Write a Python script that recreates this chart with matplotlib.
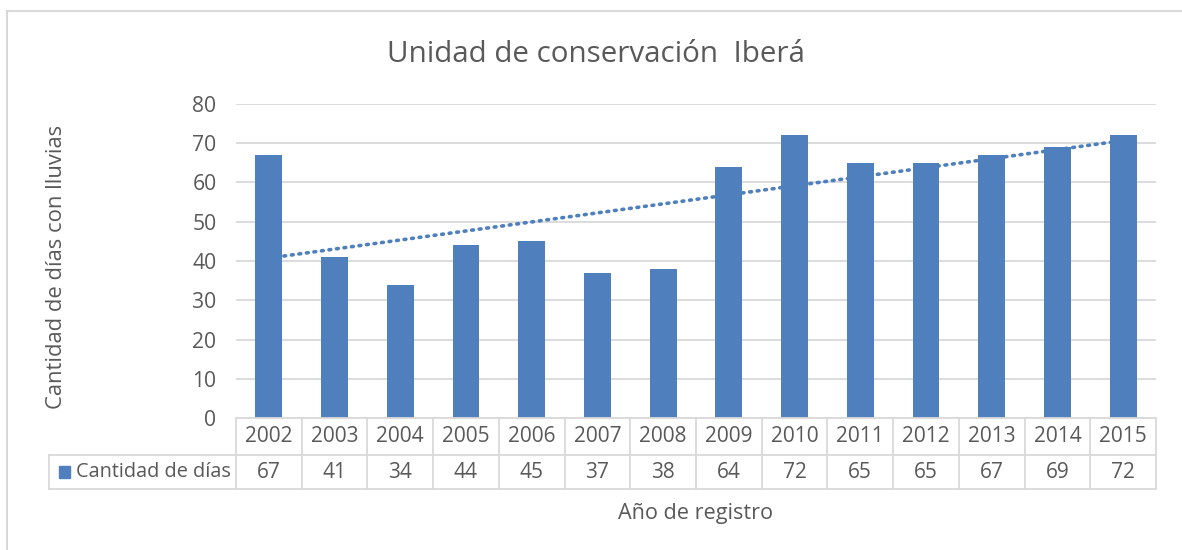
import numpy as np
import matplotlib
matplotlib.use("Agg")
import matplotlib.pyplot as plt
from matplotlib.lines import Line2D
from matplotlib.patches import Rectangle

years = ["2002", "2003", "2004", "2005", "2006", "2007", "2008",
         "2009", "2010", "2011", "2012", "2013", "2014", "2015"]
dias = [67, 41, 34, 44, 45, 37, 38, 64, 72, 65, 65, 67, 69, 72]
series_name = "Cantidad de días"
title = "Unidad de conservación  Iberá"
ylabel = "Cantidad de días con lluvias"
xlabel = "Año de registro"
yticks = [0, 10, 20, 30, 40, 50, 60, 70, 80]

plt.rcParams['font.family'] = ['Open Sans', 'DejaVu Sans']
W, H = 1182, 550
fig = plt.figure(figsize=(W / 100, H / 100), dpi=100)
fig.patch.set_facecolor("white")

txt = "#595959"
grid = "#d9d9d9"
blue = "#4f80bd"

def fx(px):
    return px / W

def fy(py):
    return 1 - py / H

# outer border (only left and top edges visible in the crop)
bl = dict(color=grid, lw=1.5, transform=fig.transFigure)
fig.add_artist(Line2D([fx(7), fx(7)], [fy(11), fy(560)], **bl))
fig.add_artist(Line2D([fx(7), fx(1200)], [fy(11), fy(11)], **bl))

L, R, T, B = 236, 1156, 104, 418
ax = fig.add_axes([fx(L), fy(B), fx(R) - fx(L), fy(T) - fy(B)])
n = len(years)
x = np.arange(n)
ax.bar(x, dias, width=0.41, color=blue, zorder=3)
coef = np.polyfit(x, dias, 1)
ax.plot([x[0], x[-1]], np.polyval(coef, [x[0], x[-1]]), color=blue, lw=2.6,
        linestyle=(0, (0.5, 1.6)), dash_capstyle='round', zorder=4)
ax.set_xlim(-0.5, n - 0.5)
ax.set_ylim(0, 80)
ax.set_yticks(yticks)
ax.yaxis.grid(True, color=grid, lw=1.3, zorder=0)
ax.set_xticks([])
for s in ax.spines.values():
    s.set_visible(False)
ax.tick_params(axis='y', length=0, labelsize=15.2, labelcolor=txt, pad=14)

# data table
col_w = (R - L) / n
row1_top, row1_bot, row2_bot = 418, 455, 489
leg_left = 49
tl = dict(color=grid, lw=1.3, transform=fig.transFigure)
fig.add_artist(Line2D([fx(L), fx(R)], [fy(row1_top)] * 2, **tl))
fig.add_artist(Line2D([fx(leg_left), fx(R)], [fy(row1_bot)] * 2, **tl))
fig.add_artist(Line2D([fx(leg_left), fx(R)], [fy(row2_bot)] * 2, **tl))
for i in range(n + 1):
    xp = L + i * col_w
    fig.add_artist(Line2D([fx(xp)] * 2, [fy(row1_top), fy(row2_bot)], **tl))
fig.add_artist(Line2D([fx(leg_left)] * 2, [fy(row1_bot), fy(row2_bot)], **tl))

for i in range(n):
    xc = L + (i + 0.5) * col_w
    fig.text(fx(xc), fy((row1_top + row1_bot) / 2), years[i], ha='center', va='center',
             fontsize=15, color=txt)
    fig.text(fx(xc), fy((row1_bot + row2_bot) / 2), str(dias[i]), ha='center', va='center',
             fontsize=15, color=txt)
# legend key
fig.add_artist(Rectangle((fx(59), fy(478)), fx(11), fy(466) - fy(478),
                         transform=fig.transFigure, color=blue))
fig.text(fx(76), fy((row1_bot + row2_bot) / 2), series_name, ha='left', va='center',
         fontsize=14.3, color=txt)

fig.text(fx(596), fy(55), title, ha='center', va='center', fontsize=21.3, color=txt)
fig.text(fx(696), fy(513), xlabel, ha='center', va='center', fontsize=15.6, color=txt)
fig.text(fx(57), fy(267), ylabel, ha='center', va='center', rotation=90,
         fontsize=15.8, color=txt)

fig.savefig("out.png", dpi=100, facecolor="white")
